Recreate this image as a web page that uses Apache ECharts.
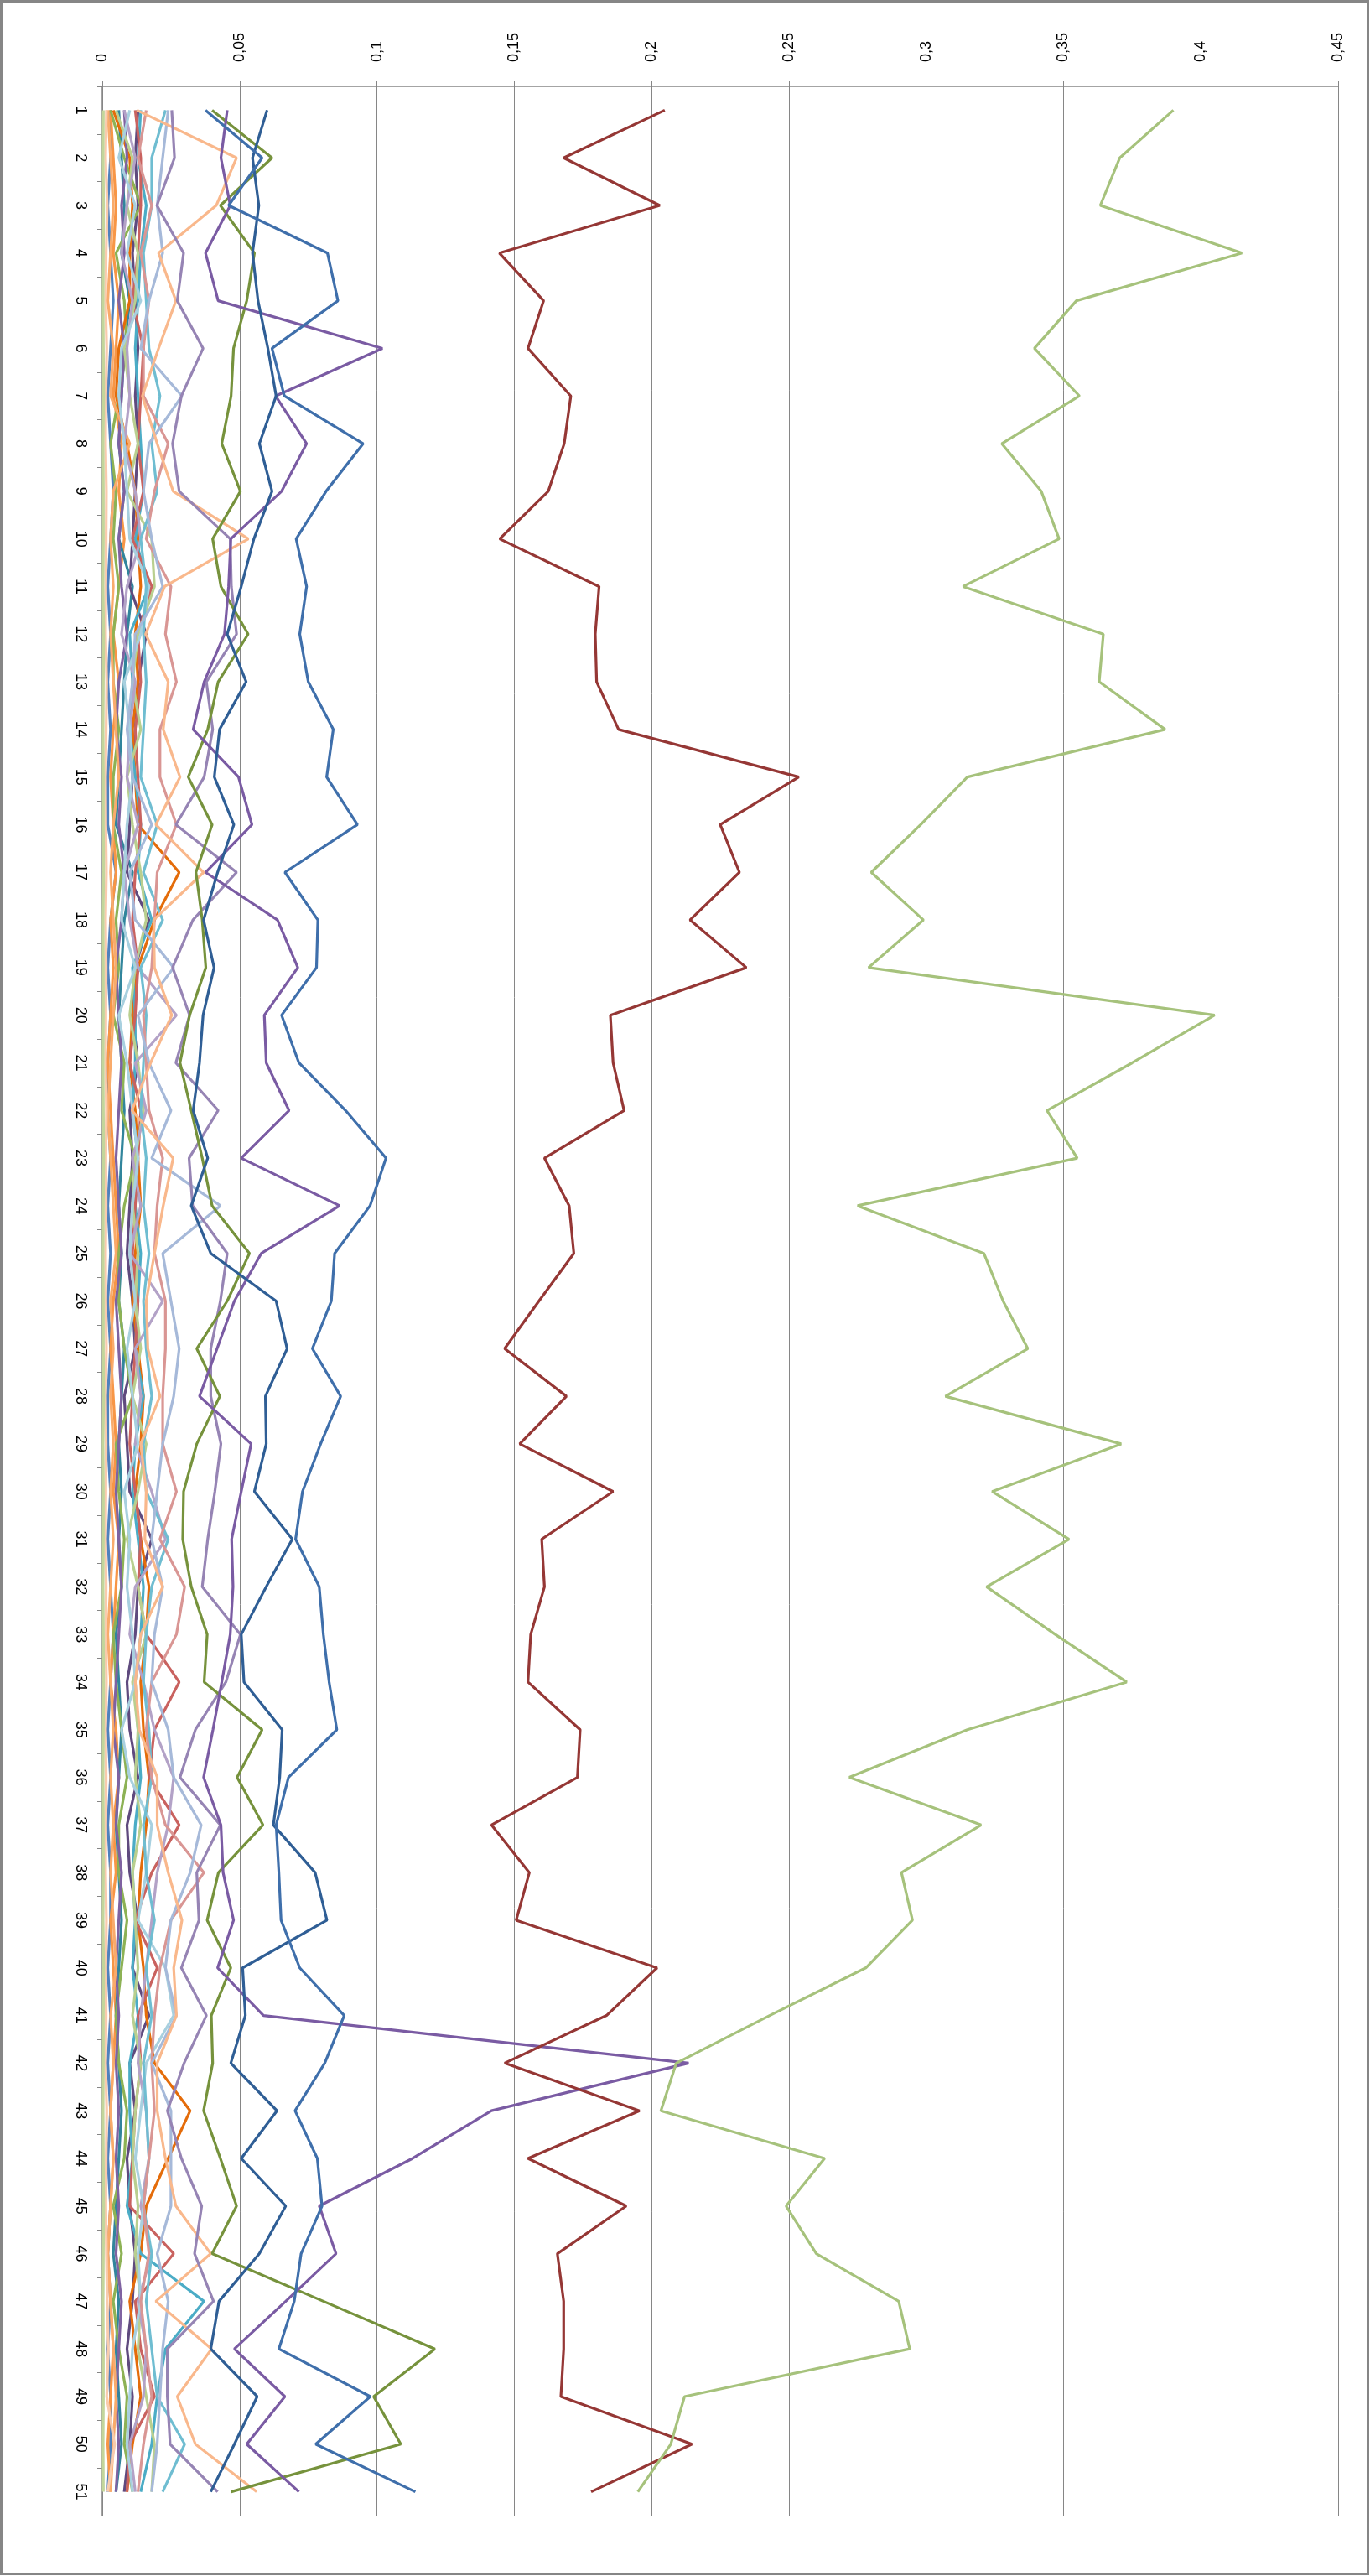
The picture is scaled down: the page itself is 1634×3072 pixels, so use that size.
<!DOCTYPE html>
<html><head><meta charset="utf-8">
<script src="https://cdn.jsdelivr.net/npm/echarts@6/dist/echarts.min.js"></script>
<style>html,body{margin:0;padding:0;background:#fff}#c{width:1634px;height:3072px}</style>
</head><body><div id="c"></div>
<script>
const categories = Array.from({length:51},(_,i)=>String(i+1));
const valueTickLabels = ['0','0,05','0,1','0,15','0,2','0,25','0,3','0,35','0,4','0,45'];

const sGreenBig = [0.390,0.3705,0.3634,0.415,0.3547,0.3394,0.3558,0.3275,0.3419,0.3484,0.3134,0.3645,0.363,0.387,0.315,0.298,0.280,0.299,0.279,0.405,0.375,0.344,0.355,0.275,0.321,0.328,0.337,0.307,0.371,0.324,0.352,0.322,0.347,0.373,0.315,0.272,0.320,0.291,0.295,0.278,0.243,0.209,0.2034,0.263,0.249,0.260,0.290,0.294,0.212,0.207,0.195];
const sRed = [0.2048,0.168,0.203,0.1446,0.1607,0.155,0.1706,0.1682,0.1624,0.1447,0.1809,0.1795,0.180,0.188,0.2536,0.225,0.232,0.214,0.2345,0.185,0.186,0.190,0.161,0.170,0.1717,0.159,0.1465,0.169,0.152,0.186,0.160,0.161,0.156,0.155,0.174,0.173,0.1417,0.1555,0.1507,0.202,0.1836,0.1465,0.1956,0.155,0.1908,0.1657,0.168,0.168,0.167,0.2147,0.178];
const sBlue1 = [0.0376,0.0582,0.046,0.082,0.0858,0.0618,0.0663,0.095,0.0815,0.0706,0.0744,0.0719,0.075,0.0841,0.0817,0.0929,0.0665,0.0785,0.078,0.0653,0.0716,0.0886,0.1033,0.0975,0.0846,0.0834,0.0765,0.0868,0.0795,0.0729,0.0704,0.079,0.0805,0.0826,0.0854,0.0678,0.0633,0.0643,0.0651,0.0719,0.0881,0.081,0.0702,0.0783,0.080,0.0724,0.0699,0.0643,0.0976,0.0777,0.114];
const sBlue2 = [0.060,0.0547,0.057,0.0547,0.0567,0.0603,0.0633,0.0572,0.0618,0.0552,0.0506,0.0455,0.0524,0.0427,0.0408,0.0479,0.042,0.0369,0.0407,0.0367,0.0354,0.0331,0.0384,0.0324,0.0395,0.0633,0.0673,0.0594,0.0597,0.0554,0.0692,0.0597,0.0506,0.0516,0.0655,0.0646,0.0623,0.0775,0.0818,0.0511,0.0521,0.0468,0.0636,0.0506,0.0668,0.0572,0.0425,0.0395,0.0564,0.0481,0.0395];
const sPurple = [0.0455,0.0432,0.0466,0.0376,0.0422,0.102,0.0631,0.0744,0.0653,0.0468,0.046,0.0445,0.0371,0.0331,0.0496,0.0545,0.0376,0.0638,0.0712,0.059,0.0597,0.068,0.0506,0.0864,0.0579,0.0481,0.0418,0.0354,0.0542,0.0506,0.0471,0.0476,0.0466,0.0435,0.0403,0.0369,0.0432,0.044,0.0478,0.042,0.0587,0.2135,0.1417,0.113,0.079,0.0851,0.0668,0.0481,0.0665,0.0526,0.0716];
const sOlive = [0.040,0.0618,0.043,0.0554,0.0526,0.0478,0.0469,0.0435,0.0503,0.0402,0.0432,0.0531,0.0422,0.0384,0.0313,0.040,0.0341,0.0364,0.0377,0.0318,0.0283,0.0324,0.0364,0.040,0.0536,0.0455,0.0344,0.0428,0.0344,0.0296,0.0293,0.0324,0.0382,0.0371,0.0582,0.0491,0.0585,0.0423,0.0382,0.0468,0.0397,0.0402,0.0369,0.043,0.0489,0.040,0.0805,0.1211,0.0988,0.1087,0.0469];
const sPeach = [0.0126,0.0489,0.0415,0.0205,0.0268,0.0205,0.0146,0.020,0.0258,0.0532,0.0227,0.0158,0.024,0.0222,0.0283,0.0195,0.0369,0.0187,0.019,0.0253,0.0176,0.0108,0.0258,0.0222,0.019,0.016,0.0166,0.021,0.014,0.016,0.0155,0.022,0.014,0.012,0.0135,0.020,0.020,0.024,0.029,0.026,0.027,0.020,0.020,0.023,0.0268,0.0395,0.0195,0.0398,0.0273,0.0339,0.0562];
const sLavender = [0.0253,0.0263,0.0199,0.0296,0.0273,0.0367,0.0288,0.0256,0.028,0.0466,0.047,0.0489,0.0379,0.0402,0.0371,0.0268,0.0489,0.033,0.0256,0.0318,0.0268,0.0422,0.0316,0.0329,0.0455,0.043,0.0395,0.0395,0.0432,0.041,0.0384,0.0364,0.0503,0.045,0.0339,0.0283,0.043,0.0344,0.0352,0.0288,0.0379,0.0298,0.0237,0.0288,0.0362,0.0336,0.0405,0.0237,0.0237,0.0247,0.042];
const sSteel = [0.024,0.022,0.020,0.022,0.017,0.014,0.029,0.017,0.015,0.018,0.022,0.012,0.011,0.009,0.011,0.018,0.010,0.012,0.026,0.013,0.017,0.025,0.018,0.043,0.022,0.025,0.028,0.026,0.022,0.020,0.018,0.022,0.019,0.018,0.024,0.026,0.036,0.032,0.025,0.023,0.027,0.018,0.025,0.025,0.025,0.020,0.024,0.022,0.021,0.020,0.018];
const sPaleGreen = [0.0004,0.0003,0.0005,0.0004,0.0003,0.0004,0.0005,0.0003,0.0004,0.0004,0.0003,0.0005,0.0004,0.0003,0.0004,0.0004,0.0005,0.0003,0.0004,0.0004,0.0003,0.0004,0.0005,0.0004,0.0003,0.0004,0.0004,0.0005,0.0003,0.0004,0.0004,0.0003,0.0004,0.0005,0.0004,0.0003,0.0004,0.0004,0.0003,0.0005,0.0004,0.0004,0.0003,0.0004,0.0005,0.0004,0.0003,0.0004,0.0004,0.0003,0.0004];
const sPalePeach = [0.0015,0.0012,0.0018,0.0014,0.0012,0.0016,0.0013,0.0012,0.0015,0.0014,0.0013,0.0012,0.0016,0.0014,0.0012,0.0013,0.0015,0.0012,0.0014,0.0013,0.0012,0.0015,0.0013,0.0014,0.0012,0.0013,0.0015,0.0012,0.0014,0.0013,0.0012,0.0014,0.0013,0.0015,0.0012,0.0014,0.0013,0.0012,0.0015,0.0013,0.0014,0.0012,0.0016,0.0014,0.0013,0.0015,0.0018,0.0022,0.0016,0.0045,0.0020];
const sOrange = [0.003,0.004,0.005,0.004,0.006,0.005,0.004,0.007,0.006,0.008,0.006,0.004,0.006,0.004,0.003,0.004,0.005,0.003,0.004,0.003,0.002,0.003,0.004,0.005,0.006,0.004,0.003,0.004,0.005,0.004,0.006,0.005,0.004,0.003,0.005,0.006,0.004,0.005,0.003,0.004,0.005,0.004,0.003,0.004,0.003,0.002,0.003,0.004,0.003,0.002,0.003];
const sDarkOrange = [0.004,0.010,0.011,0.010,0.010,0.006,0.005,0.009,0.012,0.013,0.014,0.012,0.013,0.011,0.012,0.013,0.028,0.019,0.013,0.011,0.010,0.012,0.013,0.014,0.012,0.011,0.013,0.015,0.014,0.012,0.014,0.017,0.016,0.014,0.015,0.017,0.016,0.014,0.013,0.015,0.016,0.019,0.032,0.024,0.016,0.014,0.010,0.012,0.014,0.011,0.009];
const sBlue = [0.003,0.003,0.002,0.003,0.004,0.003,0.002,0.003,0.004,0.003,0.002,0.003,0.002,0.003,0.002,0.002,0.005,0.003,0.002,0.003,0.002,0.002,0.003,0.002,0.003,0.002,0.003,0.002,0.002,0.003,0.002,0.003,0.004,0.003,0.002,0.003,0.002,0.003,0.003,0.002,0.003,0.002,0.003,0.002,0.003,0.002,0.003,0.002,0.003,0.003,0.002];
const sDarkPurple = [0.013,0.012,0.013,0.011,0.012,0.013,0.012,0.013,0.012,0.011,0.010,0.016,0.013,0.012,0.011,0.010,0.009,0.017,0.012,0.011,0.013,0.010,0.011,0.010,0.009,0.011,0.012,0.008,0.009,0.010,0.018,0.013,0.012,0.009,0.010,0.013,0.009,0.010,0.013,0.011,0.017,0.010,0.012,0.009,0.010,0.012,0.011,0.009,0.011,0.010,0.008];
const sTeal = [0.006,0.007,0.008,0.007,0.010,0.008,0.007,0.006,0.008,0.006,0.011,0.009,0.008,0.007,0.006,0.005,0.011,0.008,0.007,0.006,0.007,0.008,0.007,0.006,0.007,0.006,0.008,0.007,0.006,0.007,0.006,0.007,0.005,0.006,0.007,0.006,0.005,0.006,0.007,0.006,0.005,0.006,0.007,0.006,0.005,0.004,0.006,0.005,0.006,0.007,0.005];
const sGreen = [0.003,0.008,0.014,0.005,0.008,0.009,0.006,0.003,0.005,0.004,0.006,0.004,0.004,0.006,0.004,0.004,0.007,0.005,0.006,0.004,0.008,0.007,0.012,0.008,0.006,0.006,0.008,0.011,0.005,0.006,0.008,0.007,0.004,0.005,0.007,0.009,0.006,0.006,0.009,0.007,0.005,0.006,0.009,0.008,0.004,0.007,0.004,0.006,0.009,0.008,0.011];
const sCyan = [0.014,0.013,0.016,0.014,0.013,0.012,0.013,0.014,0.015,0.012,0.017,0.010,0.011,0.010,0.012,0.014,0.013,0.018,0.011,0.012,0.012,0.011,0.013,0.012,0.014,0.013,0.012,0.015,0.012,0.011,0.013,0.015,0.014,0.012,0.013,0.014,0.012,0.011,0.012,0.011,0.013,0.010,0.010,0.011,0.009,0.014,0.037,0.023,0.020,0.018,0.014];
const sRose = [0.012,0.014,0.014,0.013,0.011,0.015,0.014,0.013,0.015,0.011,0.018,0.013,0.014,0.012,0.013,0.014,0.012,0.011,0.013,0.012,0.010,0.014,0.013,0.012,0.011,0.013,0.012,0.011,0.010,0.012,0.014,0.013,0.016,0.028,0.019,0.017,0.028,0.018,0.012,0.020,0.013,0.014,0.012,0.011,0.010,0.026,0.012,0.014,0.019,0.010,0.009];
const sPink = [0.016,0.013,0.018,0.014,0.017,0.015,0.015,0.024,0.019,0.016,0.025,0.023,0.027,0.021,0.021,0.027,0.020,0.019,0.018,0.015,0.016,0.017,0.022,0.020,0.019,0.023,0.023,0.022,0.022,0.027,0.021,0.030,0.027,0.018,0.016,0.018,0.023,0.037,0.025,0.021,0.019,0.018,0.019,0.017,0.015,0.017,0.014,0.016,0.018,0.015,0.013];
const sLilac = [0.008,0.012,0.009,0.007,0.011,0.009,0.010,0.008,0.012,0.014,0.009,0.007,0.012,0.010,0.009,0.013,0.008,0.010,0.013,0.027,0.012,0.016,0.011,0.014,0.010,0.022,0.012,0.014,0.012,0.018,0.023,0.012,0.010,0.015,0.019,0.026,0.024,0.020,0.018,0.016,0.014,0.013,0.016,0.017,0.014,0.018,0.013,0.016,0.015,0.010,0.012];
const sLightCyan = [0.023,0.018,0.018,0.015,0.016,0.017,0.021,0.018,0.020,0.014,0.016,0.015,0.016,0.015,0.014,0.020,0.015,0.022,0.014,0.016,0.015,0.014,0.016,0.015,0.017,0.015,0.016,0.018,0.015,0.016,0.024,0.018,0.016,0.015,0.017,0.018,0.015,0.016,0.019,0.016,0.018,0.015,0.016,0.017,0.015,0.018,0.016,0.018,0.020,0.030,0.022];
const sLightBlue = [0.010,0.006,0.012,0.009,0.014,0.007,0.006,0.008,0.009,0.010,0.017,0.014,0.008,0.010,0.011,0.009,0.008,0.007,0.012,0.006,0.009,0.011,0.013,0.011,0.010,0.012,0.009,0.011,0.013,0.008,0.010,0.009,0.011,0.012,0.007,0.010,0.018,0.016,0.013,0.023,0.026,0.016,0.014,0.012,0.015,0.013,0.014,0.011,0.010,0.009,0.011];
const sLightGreen = [0.005,0.011,0.009,0.013,0.012,0.008,0.010,0.013,0.009,0.018,0.019,0.013,0.011,0.014,0.009,0.011,0.014,0.016,0.012,0.010,0.013,0.015,0.012,0.011,0.013,0.012,0.014,0.011,0.016,0.013,0.009,0.013,0.016,0.011,0.013,0.012,0.014,0.011,0.012,0.013,0.011,0.014,0.012,0.011,0.013,0.012,0.014,0.013,0.016,0.019,0.018];
const sMidPurple = [0.008,0.009,0.007,0.008,0.006,0.008,0.007,0.006,0.008,0.006,0.007,0.009,0.006,0.005,0.007,0.006,0.008,0.007,0.005,0.006,0.007,0.006,0.005,0.006,0.007,0.005,0.006,0.007,0.006,0.005,0.006,0.007,0.006,0.005,0.004,0.006,0.005,0.007,0.006,0.005,0.006,0.005,0.006,0.005,0.006,0.005,0.007,0.006,0.005,0.006,0.005];
const sLightOrange = [0.002,0.003,0.004,0.003,0.002,0.004,0.003,0.010,0.004,0.003,0.004,0.003,0.004,0.005,0.006,0.004,0.003,0.004,0.005,0.004,0.003,0.002,0.003,0.004,0.005,0.003,0.004,0.003,0.004,0.003,0.004,0.003,0.002,0.003,0.004,0.003,0.004,0.003,0.004,0.005,0.003,0.004,0.003,0.004,0.003,0.002,0.003,0.004,0.005,0.004,0.003];

const seriesDefs = [
  [sBlue,'#4F81BD'],[sOrange,'#F79646'],[sTeal,'#31859C'],[sDarkPurple,'#5F4A7E'],
  [sGreen,'#8DB255'],[sDarkOrange,'#E46C0A'],[sMidPurple,'#7F62A1'],[sLightOrange,'#F9AB6B'],
  [sCyan,'#4BACC6'],[sRose,'#C9625F'],[sLightGreen,'#B9CF8F'],[sLilac,'#B3A2C7'],
  [sLightBlue,'#A8D0DF'],[sLightCyan,'#6FBDD1'],[sPink,'#D99694'],[sSteel,'#A6B9D9'],
  [sPalePeach,'#F8CBAD'],[sPaleGreen,'#C3D69B'],
  [sPeach,'#F9B88C'],[sLavender,'#9684B4'],[sOlive,'#76923C'],[sPurple,'#7A5BA3'],
  [sBlue2,'#2F5E95'],[sBlue1,'#3F6FAB'],[sRed,'#953735'],[sGreenBig,'#A6C27C']
];

const chart = echarts.init(document.getElementById('c'), null, {renderer:'canvas'});
const gray = '#868686';
chart.setOption({
  animation:false,
  backgroundColor:'#fff',
  graphic:[{type:'rect',shape:{x:1.5,y:1.5,width:1630,height:3068},style:{fill:'none',stroke:gray,lineWidth:3},silent:true}],
  grid:{left:122,top:103,right:38,bottom:72,containLabel:false,outerBoundsMode:'none'},
  xAxis:{type:'value',position:'top',min:0,max:0.45,interval:0.05,
    axisLine:{show:true,lineStyle:{color:gray,width:1.5}},
    axisTick:{show:true,length:6,lineStyle:{color:gray,width:1}},
    splitLine:{show:true,lineStyle:{color:gray,width:1}},
    axisLabel:{rotate:-90,margin:29,fontSize:18,color:'#000',fontFamily:'Liberation Sans',showMinLabel:true,showMaxLabel:true,
      formatter:(v)=>valueTickLabels[Math.round(v/0.05)]}},
  yAxis:{type:'category',inverse:true,data:categories,boundaryGap:true,
    axisLine:{show:true,lineStyle:{color:gray,width:1.5}},
    axisTick:{show:true,length:6,interval:0,alignWithLabel:false,lineStyle:{color:gray}},
    splitLine:{show:false},
    axisLabel:{rotate:-90,interval:0,margin:17,fontSize:18,color:'#000',fontFamily:'Liberation Sans'}},
  series: seriesDefs.map(([d,c],i)=>({type:'line',data:d,symbol:'none',smooth:false,z:2,
    lineStyle:{color:c,width:3.2},itemStyle:{color:c},emphasis:{disabled:true}}))
});
</script></body></html>
